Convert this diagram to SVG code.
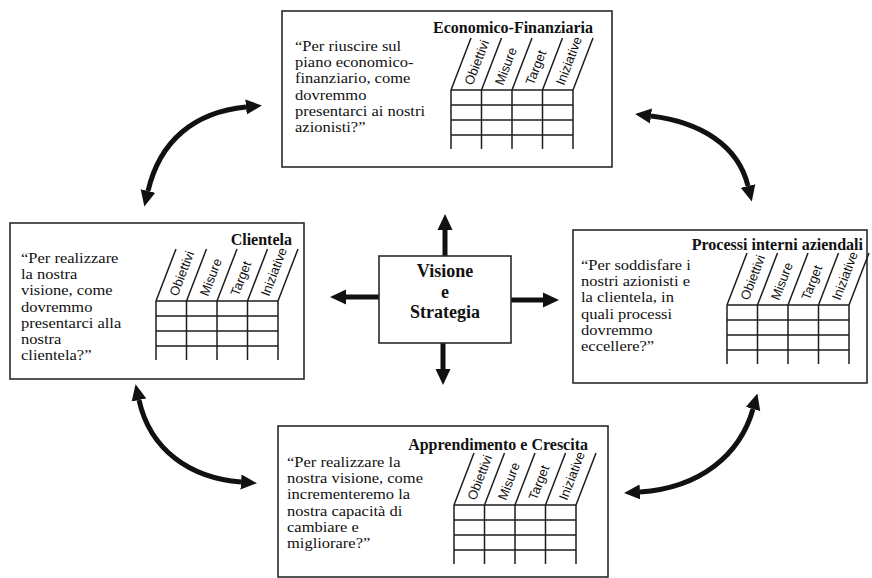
<svg xmlns="http://www.w3.org/2000/svg" width="872" height="578" viewBox="0 0 872 578">
<style>
.box{fill:#fff;stroke:#2a2a2a;stroke-width:1.6}
.grid{fill:none;stroke:#1e1e1e;stroke-width:1.5}
.title{font-family:"Liberation Serif","Times New Roman",serif;font-weight:bold;font-size:16px;fill:#111;text-anchor:end}
.q{font-family:"Liberation Serif","Times New Roman",serif;font-size:14.6px;fill:#111}
.lab{font-family:"Liberation Sans",Arial,sans-serif;font-size:13px;fill:#111}
.vis{font-family:"Liberation Serif","Times New Roman",serif;font-weight:bold;font-size:18px;fill:#111;text-anchor:middle}
.arr{fill:none;stroke:#111;stroke-width:5}
</style>
<defs>
<marker id="ah" viewBox="0 0 16 16" markerWidth="16" markerHeight="16" refX="0" refY="8" orient="auto-start-reverse" markerUnits="userSpaceOnUse">
<path d="M0,0.5 L16,8 L0,15.5 Z" fill="#111"/>
</marker>
</defs>

<g id="connectors">
<path class="arr" d="M445,256 V230" marker-end="url(#ah)"/>
<path class="arr" d="M443,343 V369" marker-end="url(#ah)"/>
<path class="arr" d="M379,297 H346" marker-end="url(#ah)"/>
<path class="arr" d="M511,300 H543" marker-end="url(#ah)"/>
<path class="arr" d="M148,191 C160,140 195,112 246,107" marker-start="url(#ah)" marker-end="url(#ah)"/>
<path class="arr" d="M651,116 C700,122 738,145 748,186" marker-start="url(#ah)" marker-end="url(#ah)"/>
<path class="arr" d="M139,400 C150,450 190,478 241,482" marker-start="url(#ah)" marker-end="url(#ah)"/>
<path class="arr" d="M753,409 C740,455 700,488 640,492" marker-start="url(#ah)" marker-end="url(#ah)"/>
</g>

<g id="vision">
<rect class="box" x="379" y="256" width="132" height="87"/>
<text class="vis" x="445" y="277">Visione</text>
<text class="vis" x="445" y="297.5">e</text>
<text class="vis" x="445" y="318">Strategia</text>
</g>

<g id="economico">
<rect class="box" x="282" y="11" width="330" height="156"/>
<text class="title" x="593" y="33">Economico-Finanziaria</text>
<text class="q" transform="translate(295,51) scale(1.13,1)"><tspan x="0" y="0">“Per riuscire sul</tspan><tspan x="0" dy="16.2">piano economico-</tspan><tspan x="0" dy="16.2">finanziario, come</tspan><tspan x="0" dy="16.2">dovremmo</tspan><tspan x="0" dy="16.2">presentarci ai nostri</tspan><tspan x="0" dy="16.2">azionisti?”</tspan></text>
<g transform="translate(451,90)">
<path class="grid" d="M0,0H122M0,15H122M0,30H122M0,45H122M0,0V59M30.5,0V59M61,0V59M91.5,0V59M122,0V59M0,0l20,-52M30.5,0l20,-52M61,0l20,-52M91.5,0l20,-52M122,0l20,-52"/>
<text class="lab" transform="translate(21.5,-4) rotate(-69)">Obiettivi</text>
<text class="lab" transform="translate(52,-4) rotate(-69)">Misure</text>
<text class="lab" transform="translate(82.5,-4) rotate(-69)">Target</text>
<text class="lab" transform="translate(113,-4) rotate(-69)">Iniziative</text>
</g>
</g>

<g id="clientela">
<rect class="box" x="10" y="223" width="294" height="156"/>
<text class="title" x="292" y="245">Clientela</text>
<text class="q" transform="translate(21,263) scale(1.13,1)"><tspan x="0" y="0">“Per realizzare</tspan><tspan x="0" dy="16.2">la nostra</tspan><tspan x="0" dy="16.2">visione, come</tspan><tspan x="0" dy="16.2">dovremmo</tspan><tspan x="0" dy="16.2">presentarci alla</tspan><tspan x="0" dy="16.2">nostra</tspan><tspan x="0" dy="16.2">clientela?”</tspan></text>
<g transform="translate(156,301)">
<path class="grid" d="M0,0H122M0,15H122M0,30H122M0,45H122M0,0V59M30.5,0V59M61,0V59M91.5,0V59M122,0V59M0,0l20,-52M30.5,0l20,-52M61,0l20,-52M91.5,0l20,-52M122,0l20,-52"/>
<text class="lab" transform="translate(21.5,-4) rotate(-69)">Obiettivi</text>
<text class="lab" transform="translate(52,-4) rotate(-69)">Misure</text>
<text class="lab" transform="translate(82.5,-4) rotate(-69)">Target</text>
<text class="lab" transform="translate(113,-4) rotate(-69)">Iniziative</text>
</g>
</g>

<g id="processi">
<rect class="box" x="573" y="230" width="294" height="153"/>
<text class="title" x="863" y="250">Processi interni aziendali</text>
<text class="q" transform="translate(581,270) scale(1.13,1)"><tspan x="0" y="0">“Per soddisfare i</tspan><tspan x="0" dy="16.2">nostri azionisti e</tspan><tspan x="0" dy="16.2">la clientela, in</tspan><tspan x="0" dy="16.2">quali processi</tspan><tspan x="0" dy="16.2">dovremmo</tspan><tspan x="0" dy="16.2">eccellere?”</tspan></text>
<g transform="translate(727,305)">
<path class="grid" d="M0,0H122M0,15H122M0,30H122M0,45H122M0,0V59M30.5,0V59M61,0V59M91.5,0V59M122,0V59M0,0l20,-52M30.5,0l20,-52M61,0l20,-52M91.5,0l20,-52M122,0l20,-52"/>
<text class="lab" transform="translate(21.5,-4) rotate(-69)">Obiettivi</text>
<text class="lab" transform="translate(52,-4) rotate(-69)">Misure</text>
<text class="lab" transform="translate(82.5,-4) rotate(-69)">Target</text>
<text class="lab" transform="translate(113,-4) rotate(-69)">Iniziative</text>
</g>
</g>

<g id="apprendimento">
<rect class="box" x="278" y="426" width="330" height="151"/>
<text class="title" x="588" y="450">Apprendimento e Crescita</text>
<text class="q" transform="translate(287,467) scale(1.13,1)"><tspan x="0" y="0">“Per realizzare la</tspan><tspan x="0" dy="16.2">nostra visione, come</tspan><tspan x="0" dy="16.2">incrementeremo la</tspan><tspan x="0" dy="16.2">nostra capacità di</tspan><tspan x="0" dy="16.2">cambiare e</tspan><tspan x="0" dy="16.2">migliorare?”</tspan></text>
<g transform="translate(454,505)">
<path class="grid" d="M0,0H122M0,15H122M0,30H122M0,45H122M0,0V59M30.5,0V59M61,0V59M91.5,0V59M122,0V59M0,0l20,-52M30.5,0l20,-52M61,0l20,-52M91.5,0l20,-52M122,0l20,-52"/>
<text class="lab" transform="translate(21.5,-4) rotate(-69)">Obiettivi</text>
<text class="lab" transform="translate(52,-4) rotate(-69)">Misure</text>
<text class="lab" transform="translate(82.5,-4) rotate(-69)">Target</text>
<text class="lab" transform="translate(113,-4) rotate(-69)">Iniziative</text>
</g>
</g>
</svg>
